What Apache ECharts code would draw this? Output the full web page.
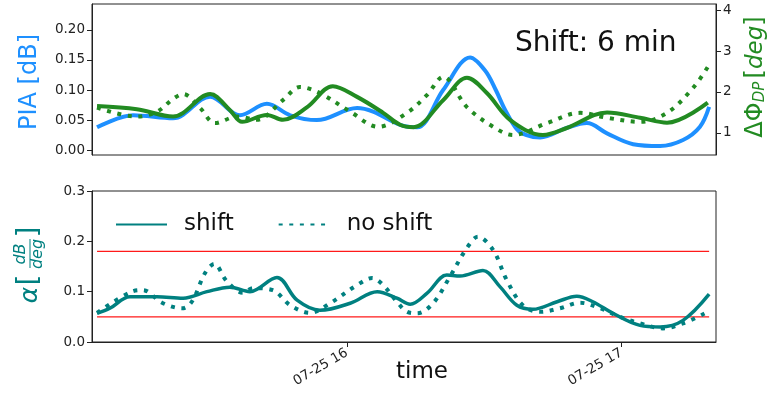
<!DOCTYPE html>
<html>
<head>
<meta charset="utf-8">
<script src="https://cdn.jsdelivr.net/npm/echarts@6/dist/echarts.min.js"></script>
<style>
  html, body { margin: 0; padding: 0; background: #fff; }
  #chart { width: 769px; height: 397px; }
</style>
</head>
<body>
<div id="chart"></div>
<script>
// Time stamps are minutes after 07-25 15:00.

// PIA [dB], shifted series (left axis, top panel)
const piaTime  = [5.4, 13.3, 22.0, 30.1, 36.6, 42.5, 47.6, 53.4, 62.2, 65.7, 71.6, 75.3, 81.0, 86.9, 90.2, 92.5, 94.6, 97.1, 99.2, 102.2, 108.0, 112.4, 116.8, 122.5, 128.4, 133.4, 137.1, 139.1];
const piaShift = [0.038, 0.058, 0.053, 0.089, 0.058, 0.077, 0.058, 0.050, 0.070, 0.064, 0.042, 0.038, 0.100, 0.154, 0.132, 0.100, 0.066, 0.035, 0.025, 0.021, 0.037, 0.045, 0.028, 0.010, 0.007, 0.017, 0.039, 0.072];

// Differential phase [deg], shifted series (right axis, top panel)
const dphiTime  = [5.4, 14.1, 22.0, 30.1, 34.4, 37.1, 42.5, 46.0, 51.3, 56.9, 62.2, 67.9, 71.6, 74.5, 81.0, 86.2, 90.6, 95.6, 102.8, 108.0, 116.8, 124.0, 129.9, 138.8];
const dphiShift = [1.66, 1.58, 1.40, 1.95, 1.56, 1.27, 1.44, 1.32, 1.63, 2.14, 1.88, 1.49, 1.20, 1.14, 1.80, 2.35, 1.97, 1.32, 0.95, 1.12, 1.50, 1.37, 1.25, 1.74];

// Differential phase [deg], unshifted series
const dphiNsTime  = [5.4, 14.1, 18.5, 22.0, 24.2, 27.9, 31.2, 36.0, 40.3, 46.0, 49.7, 54.1, 60.7, 66.8, 73.1, 77.5, 81.0, 86.2, 91.9, 96.3, 103.7, 110.9, 116.8, 124.0, 129.9, 135.6, 138.8];
const dphiNoShift = [1.62, 1.40, 1.52, 1.83, 1.95, 1.61, 1.24, 1.40, 1.32, 1.80, 2.12, 1.97, 1.52, 1.15, 1.49, 1.93, 2.37, 1.63, 1.15, 0.95, 1.24, 1.49, 1.37, 1.27, 1.49, 2.10, 2.61];

// Alpha [dB/deg] (bottom panel)
const alphaTime  = [5.4, 8.2, 12.6, 18.5, 24.2, 29.4, 34.4, 38.8, 44.7, 49.1, 54.1, 60.7, 66.6, 70.9, 73.8, 77.5, 81.8, 84.7, 89.7, 93.4, 97.1, 100.6, 105.9, 110.2, 113.7, 118.1, 124.0, 128.4, 133.4, 139.1];
const alphaShift = [0.057, 0.067, 0.090, 0.090, 0.087, 0.100, 0.109, 0.100, 0.128, 0.083, 0.063, 0.077, 0.100, 0.087, 0.075, 0.097, 0.133, 0.131, 0.142, 0.110, 0.073, 0.065, 0.080, 0.091, 0.080, 0.057, 0.033, 0.030, 0.043, 0.095];

const alphaNsTime  = [5.4, 13.0, 15.4, 19.6, 24.0, 26.1, 29.0, 31.0, 33.8, 37.3, 39.5, 43.8, 47.6, 51.9, 56.3, 62.2, 65.5, 67.9, 70.9, 73.1, 75.3, 78.8, 82.5, 86.2, 88.6, 91.9, 94.9, 98.4, 102.2, 106.5, 110.9, 115.3, 119.6, 124.0, 129.0, 133.4, 138.2];
const alphaNoShift = [0.058, 0.100, 0.103, 0.078, 0.067, 0.080, 0.137, 0.155, 0.120, 0.098, 0.107, 0.103, 0.073, 0.058, 0.077, 0.113, 0.127, 0.113, 0.080, 0.060, 0.057, 0.077, 0.130, 0.187, 0.209, 0.183, 0.123, 0.073, 0.060, 0.067, 0.078, 0.067, 0.050, 0.037, 0.027, 0.037, 0.057];

// Reference levels for alpha
const alphaLimits = [0.05, 0.18];

// Tick positions
const timeTicks  = [60, 120];
const piaTicks   = [0.00, 0.05, 0.10, 0.15, 0.20];
const dphiTicks  = [1, 2, 3, 4];
const alphaTicks = [0.0, 0.1, 0.2, 0.3];

const FONT = 'DejaVu Sans';
const BLUE = '#1e90ff';
const GREEN = '#228b22';
const TEAL = '#008080';
const INK = '#222';

const pairs = (xs, ys) => xs.map((x, i) => [x, ys[i]]);
const tStart = Math.min(alphaTime[0], alphaNsTime[0]);
const tEnd = Math.max(alphaTime[alphaTime.length - 1], alphaNsTime[alphaNsTime.length - 1]);

const chart = echarts.init(document.getElementById('chart'), null, { renderer: 'canvas' });

const tickStyle = { show: true, length: 5, lineStyle: { color: INK, width: 1 } };
const axisLine = { show: true, onZero: false, lineStyle: { color: INK, width: 1 } };

function valueAxis(opts) {
  return Object.assign({
    type: 'value',
    splitLine: { show: false },
    axisLine: axisLine,
  }, opts);
}

const option = {
  animation: false,
  backgroundColor: '#fff',
  grid: [
    { left: 92, right: 53, top: 4, height: 151, show: true, borderColor: INK, borderWidth: 1, containLabel: false },
    { left: 92, right: 53, top: 191, height: 151, show: true, borderColor: INK, borderWidth: 1, containLabel: false }
  ],
  xAxis: [
    valueAxis({ gridIndex: 0, min: 4.3, max: 140.6, axisLine: { show: false }, axisTick: { show: false }, axisLabel: { show: false } }),
    valueAxis({
      gridIndex: 1, min: 4.3, max: 140.6,
      axisTick: Object.assign({ customValues: timeTicks }, tickStyle),
      axisLabel: {
        customValues: timeTicks, rotate: 30, margin: 10,
        fontFamily: FONT, fontSize: 13.5, color: INK,
        formatter: v => '07-25 ' + (15 + Math.round(v / 60))
      }
    })
  ],
  yAxis: [
    valueAxis({
      gridIndex: 0, min: -0.008, max: 0.243, position: 'left',
      axisTick: Object.assign({ customValues: piaTicks }, tickStyle),
      axisLabel: { customValues: piaTicks, fontFamily: FONT, fontSize: 13.5, color: INK, margin: 7,
        formatter: v => v.toFixed(2) }
    }),
    valueAxis({
      gridIndex: 0, min: 0.46, max: 4.15, position: 'right',
      axisTick: Object.assign({ customValues: dphiTicks }, tickStyle),
      axisLabel: { customValues: dphiTicks, fontFamily: FONT, fontSize: 13.5, color: INK, margin: 7,
        formatter: v => String(Math.round(v)) }
    }),
    valueAxis({
      gridIndex: 1, min: 0, max: 0.3, position: 'left',
      axisTick: Object.assign({ customValues: alphaTicks }, tickStyle),
      axisLabel: { customValues: alphaTicks, fontFamily: FONT, fontSize: 13.5, color: INK, margin: 7,
        formatter: v => v.toFixed(1) }
    })
  ],
  legend: {
    data: ['shift', 'no shift'],
    left: 110, top: 208,
    itemWidth: 51, itemHeight: 14, itemGap: 44,
    itemStyle: { opacity: 0 },
    textStyle: { fontFamily: FONT, fontSize: 23, color: '#111', padding: [0, 0, 0, 12] }
  },
  series: [
    {
      name: 'PIA', type: 'line', xAxisIndex: 0, yAxisIndex: 0, smooth: 0.35, symbol: 'none',
      data: pairs(piaTime, piaShift),
      lineStyle: { color: BLUE, width: 4 }, itemStyle: { color: BLUE }, z: 2
    },
    {
      name: 'ΔΦDP shift', type: 'line', xAxisIndex: 0, yAxisIndex: 1, smooth: 0.35, symbol: 'none',
      data: pairs(dphiTime, dphiShift),
      lineStyle: { color: GREEN, width: 4 }, itemStyle: { color: GREEN }, z: 3
    },
    {
      name: 'ΔΦDP no shift', type: 'line', xAxisIndex: 0, yAxisIndex: 1, smooth: 0.35, symbol: 'none',
      data: pairs(dphiNsTime, dphiNoShift),
      lineStyle: { color: GREEN, width: 4, type: [4, 6.6], cap: 'butt' }, itemStyle: { color: GREEN }, z: 3
    },
    ...alphaLimits.map(lim => ({
      name: 'limit ' + lim, type: 'line', xAxisIndex: 1, yAxisIndex: 2, symbol: 'none',
      data: [[tStart, lim], [tEnd, lim]],
      lineStyle: { color: '#ff1a1a', width: 1.2 }, itemStyle: { color: '#ff1a1a' }, z: 1
    })),
    {
      name: 'shift', type: 'line', xAxisIndex: 1, yAxisIndex: 2, smooth: 0.35, symbol: 'none',
      data: pairs(alphaTime, alphaShift),
      lineStyle: { color: TEAL, width: 3.5 }, itemStyle: { color: TEAL }, z: 3
    },
    {
      name: 'no shift', type: 'line', xAxisIndex: 1, yAxisIndex: 2, smooth: 0.35, symbol: 'none',
      data: pairs(alphaNsTime, alphaNoShift),
      lineStyle: { color: TEAL, width: 4, type: [4, 6.6], cap: 'butt' }, itemStyle: { color: TEAL }, z: 3
    }
  ],
  graphic: [
    // Annotation
    { type: 'text', left: 515, top: 30, style: { text: 'Shift: 6 min', fontFamily: FONT, fontSize: 28, fill: '#111' } },
    // x axis title
    { type: 'text', x: 422, y: 372, style: { text: 'time', fontFamily: FONT, fontSize: 23, fill: '#111', align: 'center', verticalAlign: 'middle' } },
    // left title, top panel
    { type: 'text', x: 30, y: 82, rotation: Math.PI / 2,
      style: { text: 'PIA [dB]', fontFamily: FONT, fontSize: 24, fill: BLUE, align: 'center', verticalAlign: 'middle' } },
    // right title, top panel
    { type: 'text', x: 756, y: 77, rotation: Math.PI / 2,
      style: {
        text: '{g|ΔΦ}{s|DP} {g|[}{i|deg}{g|]}',
        align: 'center', verticalAlign: 'middle',
        rich: {
          g: { fontFamily: FONT, fontSize: 24, fill: GREEN },
          s: { fontFamily: FONT, fontSize: 15, fontStyle: 'italic', fill: GREEN, verticalAlign: 'bottom' },
          i: { fontFamily: FONT, fontSize: 23, fontStyle: 'italic', fill: GREEN }
        }
      } },
    // left title, bottom panel
    { type: 'group', x: 30, y: 267, rotation: Math.PI / 2, children: [
      { type: 'text', x: -28, y: 0, style: { text: 'α', fontFamily: FONT, fontSize: 25, fontStyle: 'italic', fill: TEAL, align: 'center', verticalAlign: 'middle' } },
      { type: 'text', x: -13, y: 0, style: { text: '[', fontFamily: FONT, fontSize: 28, fill: TEAL, align: 'center', verticalAlign: 'middle' } },
      { type: 'text', x: 13, y: -9, style: { text: 'dB', fontFamily: FONT, fontSize: 16, fontStyle: 'italic', fill: TEAL, align: 'center', verticalAlign: 'middle' } },
      { type: 'line', shape: { x1: -1, y1: 0, x2: 28, y2: 0 }, style: { stroke: TEAL, lineWidth: 1 } },
      { type: 'text', x: 13, y: 8, style: { text: 'deg', fontFamily: FONT, fontSize: 16, fontStyle: 'italic', fill: TEAL, align: 'center', verticalAlign: 'middle' } },
      { type: 'text', x: 35, y: 0, style: { text: ']', fontFamily: FONT, fontSize: 28, fill: TEAL, align: 'center', verticalAlign: 'middle' } }
    ] }
  ]
};

chart.setOption(option);
</script>
</body>
</html>
